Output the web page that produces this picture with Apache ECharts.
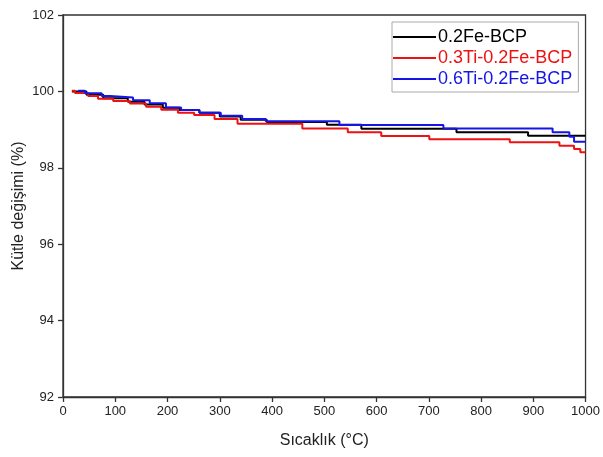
<!DOCTYPE html>
<html>
<head>
<meta charset="utf-8">
<script src="https://cdn.jsdelivr.net/npm/echarts@6/dist/echarts.min.js"></script>
<style>html,body{margin:0;padding:0;background:#fff}#c{width:603px;height:457px}</style>
</head>
<body>
<div id="c"></div>
<script>
const seriesNames = ['0.2Fe-BCP', '0.3Ti-0.2Fe-BCP', '0.6Ti-0.2Fe-BCP'];
const seriesColors = ['#000000', '#ee1111', '#1515e6'];
// [temperature (°C), mass change (%)] at each step
const fe02 = [[17,100.0],[45,99.91],[77,99.82],[124,99.73],[156,99.66],[191,99.57],[223,99.51],[261,99.44],[300,99.34],[340,99.26],[390,99.20],[505,99.13],[571,99.02],[753,98.93],[890,98.84],[1000,98.84]];
const ti03 = [[17,100.02],[23,99.96],[48,99.88],[67,99.81],[96,99.75],[128,99.68],[159,99.60],[188,99.52],[220,99.44],[251,99.38],[290,99.28],[334,99.15],[458,99.03],[545,98.93],[609,98.83],[701,98.75],[855,98.67],[950,98.58],[978,98.49],[990,98.41],[1000,98.41]];
const ti06 = [[29,100.02],[42,99.95],[74,99.88],[90,99.84],[134,99.77],[166,99.69],[197,99.58],[226,99.51],[261,99.44],[302,99.36],[343,99.28],[388,99.22],[529,99.12],[728,99.03],[937,98.93],[969,98.81],[978,98.68],[1000,98.68]];
const xTicks = {min: 0, max: 1000, interval: 100};
const yTicks = {min: 92, max: 102, interval: 2};

const chart = echarts.init(document.getElementById('c'), null, {renderer: 'canvas'});
const font = 'Liberation Sans, Arial, sans-serif';
const axisCommon = {
  axisLine: {show: true, onZero: false, lineStyle: {color: '#333', width: 1.3}},
  axisTick: {show: true, inside: false, length: 5, lineStyle: {color: '#333', width: 1.3}},
  splitLine: {show: false},
  axisLabel: {color: '#222', fontSize: 13, fontFamily: font, formatter: v => String(v)},
  nameTextStyle: {color: '#222', fontSize: 16, fontFamily: font}
};
const datasets = [fe02, ti03, ti06];
chart.setOption({
  animation: false,
  backgroundColor: '#fff',
  grid: {left: 63, right: 15, top: 15, bottom: 60, show: true, borderColor: '#333', borderWidth: 1.3, containLabel: false},
  legend: {
    orient: 'vertical', left: 392, top: 22, width: 181,
    backgroundColor: '#fff', borderColor: '#aaa', borderWidth: 1,
    padding: [6, 6, 4, 1], itemGap: 3, itemWidth: 43, itemHeight: 2, icon: 'rect',
    data: seriesNames.map((n, i) => ({name: n, textStyle: {color: seriesColors[i]}})),
    textStyle: {fontSize: 18, fontFamily: font, padding: [0,0,0,-3]}
  },
  xAxis: Object.assign({}, axisCommon, {
    type: 'value', min: xTicks.min, max: xTicks.max, interval: xTicks.interval,
    name: 'Sıcaklık (°C)', nameLocation: 'middle', nameGap: 36, nameMoveOverlap: false,
    axisLabel: Object.assign({}, axisCommon.axisLabel, {margin: 8})
  }),
  yAxis: Object.assign({}, axisCommon, {
    type: 'value', min: yTicks.min, max: yTicks.max, interval: yTicks.interval,
    name: 'Kütle değişimi (%)', nameLocation: 'middle', nameGap: 36, nameMoveOverlap: false,
    axisLabel: Object.assign({}, axisCommon.axisLabel, {margin: 9})
  }),
  series: seriesNames.map((n, i) => ({
    name: n, type: 'line', step: 'end', data: datasets[i], showSymbol: false, symbol: 'none',
    lineStyle: {color: seriesColors[i], width: 2}, itemStyle: {color: seriesColors[i]}, z: 2 + i
  }))
});
</script>
</body>
</html>
